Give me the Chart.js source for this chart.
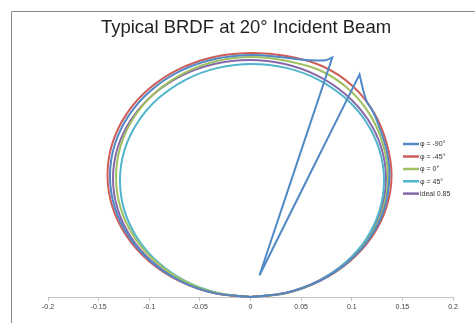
<!DOCTYPE html>
<html>
<head>
<meta charset="utf-8">
<script src="https://cdn.jsdelivr.net/npm/chart.js@4/dist/chart.umd.min.js"></script>
<style>
  html, body { margin: 0; padding: 0; background: #ffffff; }
  #wrap { position: relative; width: 475px; height: 323px; overflow: hidden; }
  canvas { display: block; }
</style>
</head>
<body>
<div id="wrap"><canvas id="c" width="475" height="323"></canvas></div>
<script>
// ---- data ----
const chartTitle = 'Typical BRDF at 20\u00B0 Incident Beam';
const seriesNames = ['\u03C6 = -90\u00B0', '\u03C6 = -45\u00B0', '\u03C6 = 0\u00B0', '\u03C6 = 45\u00B0', 'ideal 0.85'];
const seriesColors = ['#5089c6', '#cd5d59', '#9fc060', '#50b5cc', '#8569a9'];
const xTickLabels = ['-0.2', '-0.15', '-0.1', '-0.05', '0', '0.05', '0.1', '0.15', '0.2'];

// phi = -90 deg (with specular spike; repeated points keep the corners sharp)
const phiMinus90 = [
  [0, 0], [-0.0364, 0.0041], [-0.0697, 0.0161], [-0.0983, 0.0353], [-0.1203, 0.0602], [-0.1341, 0.0893],
  [-0.1388, 0.1205], [-0.1341, 0.1517], [-0.1203, 0.1807], [-0.0983, 0.2057], [-0.0697, 0.2249],
  [-0.0364, 0.2368], [-0.0007, 0.2410], [0.0291, 0.2390], [0.0489, 0.2366], [0.0667, 0.2356],
  [0.0751, 0.2361], [0.0808, 0.2385], [0.0808, 0.2385], [0.0089, 0.0217], [0.0089, 0.0217],
  [0.1077, 0.2217], [0.1077, 0.2217], [0.1108, 0.2081], [0.1148, 0.1949], [0.1197, 0.1867],
  [0.1230, 0.1801], [0.1262, 0.1719], [0.1314, 0.1570], [0.1353, 0.1422], [0.1373, 0.1205],
  [0.1326, 0.0893], [0.1188, 0.0602], [0.0968, 0.0353], [0.0683, 0.0161], [0.0350, 0.0041], [0, 0]
];
// phi = -45 deg
const phiMinus45 = [
  [0, 0], [-0.0373, 0.0041], [-0.0711, 0.0163], [-0.1002, 0.0356], [-0.1225, 0.0607], [-0.1365, 0.0901],
  [-0.1412, 0.1215], [-0.1365, 0.1529], [-0.1225, 0.1822], [-0.1002, 0.2074], [-0.0711, 0.2267],
  [-0.0373, 0.2388], [-0.0010, 0.2430], [0.0357, 0.2400], [0.0712, 0.2298], [0.1011, 0.2100],
  [0.1223, 0.1831], [0.1345, 0.1529], [0.1393, 0.1215], [0.1345, 0.0901], [0.1205, 0.0607],
  [0.0982, 0.0356], [0.0691, 0.0163], [0.0353, 0.0041], [0, 0]
];
// phi = 0 deg
const phiZero = [
  [0, 0], [-0.0333, 0.0040], [-0.0657, 0.0160], [-0.0935, 0.0350], [-0.1149, 0.0598], [-0.1283, 0.0886],
  [-0.1328, 0.1195], [-0.1283, 0.1504], [-0.1149, 0.1793], [-0.0935, 0.2041], [-0.0657, 0.2230],
  [-0.0333, 0.2350], [0.0015, 0.2390], [0.0362, 0.2350], [0.0700, 0.2251], [0.0984, 0.2057],
  [0.1190, 0.1799], [0.1313, 0.1504], [0.1358, 0.1195], [0.1313, 0.0886], [0.1178, 0.0598],
  [0.0965, 0.0350], [0.0686, 0.0160], [0.0362, 0.0040], [0, 0]
];
// phi = 45 deg
const phiPlus45 = [
  [0, 0], [-0.0323, 0.0040], [-0.0637, 0.0155], [-0.0907, 0.0340], [-0.1114, 0.0580], [-0.1245, 0.0860],
  [-0.1289, 0.1161], [-0.1245, 0.1461], [-0.1114, 0.1741], [-0.0907, 0.1981], [-0.0637, 0.2166],
  [-0.0323, 0.2282], [0.0015, 0.2321], [0.0353, 0.2282], [0.0667, 0.2166], [0.0936, 0.1981],
  [0.1144, 0.1741], [0.1274, 0.1461], [0.1319, 0.1161], [0.1274, 0.0860], [0.1144, 0.0580],
  [0.0936, 0.0340], [0.0667, 0.0155], [0.0353, 0.0040], [0, 0]
];
// ideal 0.85
const ideal085 = [
  [0, 0], [-0.0359, 0.0040], [-0.0684, 0.0158], [-0.0963, 0.0346], [-0.1177, 0.0590], [-0.1312, 0.0875],
  [-0.1358, 0.1180], [-0.1312, 0.1486], [-0.1177, 0.1770], [-0.0963, 0.2015], [-0.0684, 0.2203],
  [-0.0359, 0.2320], [-0.0010, 0.2361], [0.0339, 0.2320], [0.0664, 0.2203], [0.0943, 0.2015],
  [0.1158, 0.1770], [0.1292, 0.1486], [0.1338, 0.1180], [0.1292, 0.0875], [0.1158, 0.0590],
  [0.0943, 0.0346], [0.0664, 0.0158], [0.0339, 0.0040], [0, 0]
];

const allSeries = [phiMinus90, phiMinus45, phiZero, phiPlus45, ideal085];
const FONT = '"Liberation Sans", Arial, Helvetica, sans-serif';

const datasets = allSeries.map((pts, i) => ({
  label: seriesNames[i],
  data: pts.map(p => ({ x: p[0], y: p[1] })),
  showLine: true,
  borderColor: seriesColors[i],
  backgroundColor: seriesColors[i],
  borderWidth: 2,
  pointRadius: 0,
  pointHoverRadius: 0,
  tension: 0.34,
  fill: false,
  clip: false
}));

const decorPlugin = {
  id: 'decor',
  beforeDraw(chart) {
    const ctx = chart.ctx;
    ctx.save();
    ctx.fillStyle = '#ffffff';
    ctx.fillRect(0, 0, chart.width, chart.height);
    ctx.strokeStyle = '#8a8a8a';
    ctx.lineWidth = 1;
    ctx.beginPath();
    ctx.moveTo(11.5, chart.height);
    ctx.lineTo(11.5, 11.5);
    ctx.lineTo(chart.width, 11.5);
    ctx.stroke();
    ctx.restore();
  },
  afterDraw(chart) {
    const ctx = chart.ctx;
    ctx.save();
    // title
    ctx.fillStyle = '#231f20';
    ctx.font = '18.5px ' + FONT;
    ctx.textAlign = 'center';
    ctx.textBaseline = 'alphabetic';
    ctx.fillText(chartTitle, 246, 33);
    // legend
    const ys = [144, 156.5, 169, 181.3, 193.6];
    ctx.font = '7px ' + FONT;
    ctx.textAlign = 'left';
    ctx.textBaseline = 'middle';
    chart.data.datasets.forEach((ds, i) => {
      ctx.strokeStyle = ds.borderColor;
      ctx.lineWidth = 2.5;
      ctx.beginPath();
      ctx.moveTo(403, ys[i]);
      ctx.lineTo(419, ys[i]);
      ctx.stroke();
      ctx.fillStyle = '#333333';
      ctx.fillText(ds.label, 420, ys[i] + 0.5);
    });
    ctx.restore();
  }
};

new Chart(document.getElementById('c'), {
  type: 'scatter',
  data: { datasets },
  options: {
    responsive: false,
    animation: false,
    devicePixelRatio: 1,
    layout: { padding: { left: 48, right: 22, top: 46, bottom: 9.6 } },
    plugins: {
      legend: { display: false },
      title: { display: false },
      tooltip: { enabled: false }
    },
    scales: {
      x: {
        type: 'linear',
        min: -0.2,
        max: 0.2,
        grid: { drawOnChartArea: false, drawTicks: true, tickLength: 4, color: '#c4c4c4' },
        border: { display: true, color: '#c4c4c4', width: 1 },
        ticks: {
          stepSize: 0.05,
          padding: 2,
          maxRotation: 0,
          autoSkip: false,
          color: '#404040',
          font: { family: FONT, size: 7 },
          callback: (v, i) => xTickLabels[i]
        }
      },
      y: {
        type: 'linear',
        display: false,
        min: 0,
        max: 0.25
      }
    }
  },
  plugins: [decorPlugin]
});
</script>
</body>
</html>
